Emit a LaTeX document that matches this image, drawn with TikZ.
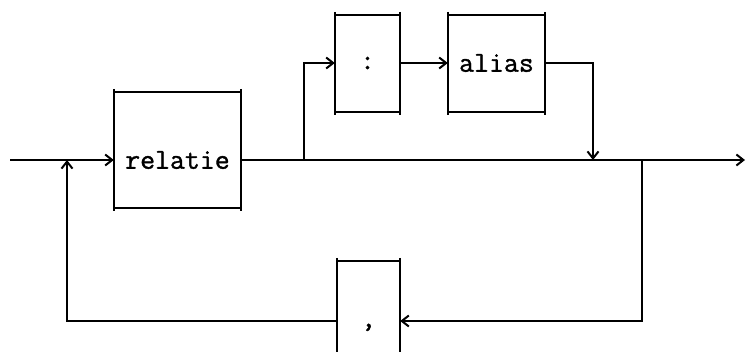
\documentclass[tikz,border=0pt]{standalone}
\usepackage{fontspec}
\newfontfamily\twfont[FakeBold=1.2]{Latin Modern Mono}
\usetikzlibrary{arrows.meta}
\begin{document}
\begin{tikzpicture}[x=1pt,y=-1pt,
  ln/.style={line width=2pt},
  arr/.style={ln,-{Straight Barb[length=7pt,width=11pt,line width=2pt]}},
  slot/.style={draw=none,inner sep=0pt},
  lbl/.style={inner sep=0pt,font=\fontsize{29}{29}\selectfont\twfont}
]
\useasboundingbox (0,0) rectangle (746,351);
\begin{scope}
\clip (0,0) rectangle (746,351);
% box slots
\node[slot,minimum width=127pt,minimum height=116pt] (rel) at (177.5,150) {};
\node[slot,minimum width=65pt,minimum height=97pt] (col) at (367.5,63.5) {};
\node[slot,minimum width=97pt,minimum height=97pt] (ali) at (496.5,63.5) {};
\node[slot,minimum width=63pt,minimum height=100pt] (com) at (368.5,311) {};
% labels
\node[lbl] (trel) at (177.5,160) {relatie};
\node[lbl] (tcol) at (367.5,63) {:};
\node[lbl] (tali) at (496.5,63) {alias};
\node[lbl,anchor=base] (tcom) at (368.5,327) {,};
% box outlines (sides extend past top/bottom)
\foreach \b in {rel,col,ali}{
  \draw[ln] ([yshift=3pt]\b.north west) -- ([yshift=-3pt]\b.south west);
  \draw[ln] ([yshift=3pt]\b.north east) -- ([yshift=-3pt]\b.south east);
  \draw[ln] (\b.north west) -- (\b.north east);
  \draw[ln] (\b.south west) -- (\b.south east);
}
\draw[ln] ([yshift=3pt]com.north west) -- (com.south west);
\draw[ln] ([yshift=3pt]com.north east) -- (com.south east);
\draw[ln] (com.north west) -- (com.north east);
% junction coordinates
\coordinate (start) at (10,160);
\coordinate (jl) at (67,160);
\coordinate (jb) at (304,160);
\coordinate (jm) at (593,160);
\coordinate (jr) at (642,160);
\coordinate (stop) at (745,160);
\coordinate (bl) at (67,321);
\coordinate (br) at (642,321);
\coordinate (ut) at (304,63);
\coordinate (dt) at (593,63);
% main line
\draw[arr] (start) -- (rel.west |- start);
\draw[arr] (rel.east |- start) -- (stop);
% optional alias branch
\draw[arr] (jb) -- (ut) -- (col.west |- ut);
\draw[arr] (col.east |- ut) -- (ali.west |- ut);
\draw[arr] (ali.east |- ut) -- (dt) -- (jm);
% repeat loop
\draw[arr] (jr) -- (br) -- (com.east |- br);
\draw[arr] (com.west |- bl) -- (bl) -- (jl);
\end{scope}
\end{tikzpicture}
\end{document}
